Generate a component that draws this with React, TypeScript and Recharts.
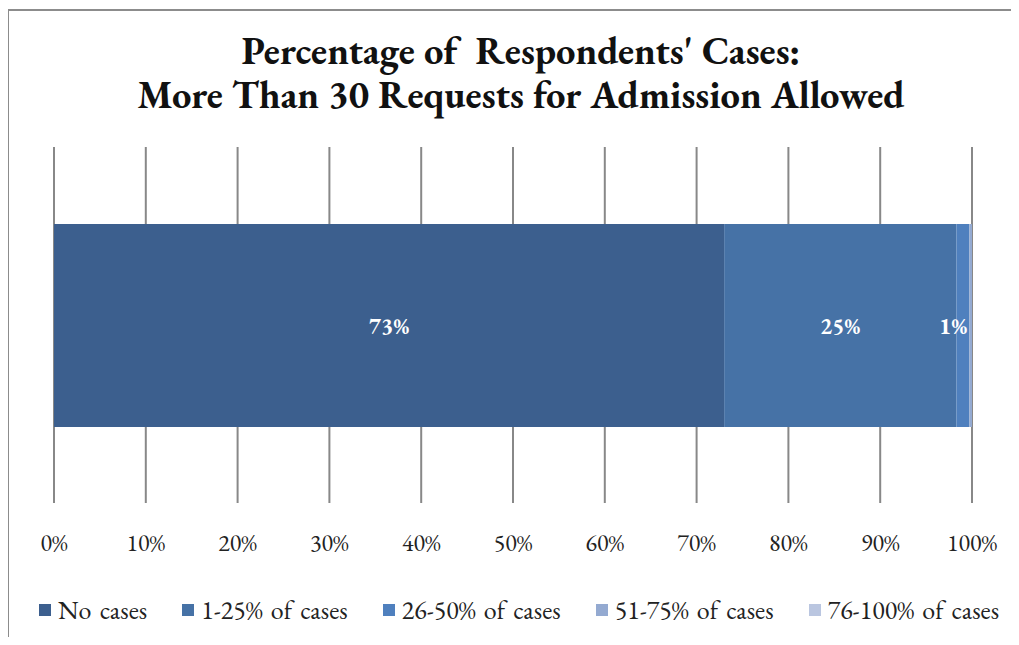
import { Bar, BarChart, CartesianGrid, LabelList, XAxis, YAxis } from "recharts"

const categories = ["Respondents"]
const seriesKeys = ["none", "low", "mid", "high", "top"]
const seriesNames = [
  "No cases",
  "1-25% of cases",
  "26-50% of cases",
  "51-75% of cases",
  "76-100% of cases",
]
const seriesValues = [73.0, 25.3, 1.4, 0.3, 0]
const seriesColors = ["#3c5f8e", "#4672a6", "#4f80be", "#94aad1", "#bac6e0"]
const xTicks = [0, 10, 20, 30, 40, 50, 60, 70, 80, 90, 100]

const titleLines = ["Percentage of  Respondents' Cases:", "More Than 30 Requests for Admission Allowed"]

const chartData = categories.map((name) => {
  const row: Record<string, string | number> = { name }
  seriesKeys.forEach((key, i) => {
    row[key] = seriesValues[i]
  })
  return row
})

const serif = "'EB Garamond', 'Liberation Serif', serif"

function PercentTick(props: any) {
  const { x, y, payload } = props
  return (
    <text x={x} y={y + 40} textAnchor="middle" fill="#222" fontSize={24} style={{ fontFamily: serif }}>
      {`${payload.value}%`}
    </text>
  )
}

function SegmentLabel(props: any) {
  const { x, y, width, height, value } = props
  if (value == null || value < 0.5) return null
  const right = x + width
  const cx = Math.min(x + width / 2, right - 16)
  return (
    <text
      x={cx}
      y={y + height / 2 + 8}
      textAnchor="middle"
      fill="#ffffff"
      fontSize={23}
      fontWeight="bold"
      style={{ fontFamily: serif }}
    >
      {`${Math.round(value)}%`}
    </text>
  )
}

export default function App() {
  return (
    <div
      style={{
        position: "relative",
        width: 1019,
        height: 645,
        overflow: "hidden",
        margin: -8,
        background: "#fff",
        fontFamily: serif,
      }}
    >
      <div
        style={{
          position: "absolute",
          left: 7,
          top: 9,
          width: 1100,
          height: 700,
          border: "2px solid #8c8c8c",
        }}
      />
      {titleLines.map((line, i) => (
        <div
          key={line}
          style={{
            position: "absolute",
            left: 0,
            top: 30 + i * 44,
            width: 1042,
            textAlign: "center",
            fontWeight: "bold",
            fontSize: 38.6,
            lineHeight: "40px",
            color: "#111",
            whiteSpace: "pre",
          }}
        >
          {line}
        </div>
      ))}

      <div style={{ position: "absolute", left: 0, top: 0 }}>
        <BarChart
          width={1019}
          height={645}
          data={chartData}
          layout="vertical"
          margin={{ top: 147, right: 47, bottom: 102, left: 54 }}
          barSize={203}
        >
          <CartesianGrid horizontal={false} stroke="#888888" strokeWidth={2} />
          <XAxis
            type="number"
            domain={[0, 100]}
            ticks={xTicks}
            tick={<PercentTick />}
            axisLine={false}
            tickLine={false}
            height={40}
            interval={0}
          />
          <YAxis type="category" dataKey="name" hide />
          {seriesKeys.map((key, i) => (
            <Bar
              key={key}
              dataKey={key}
              name={seriesNames[i]}
              stackId="total"
              fill={seriesColors[i]}
              isAnimationActive={false}
            >
              <LabelList dataKey={key} content={<SegmentLabel />} />
            </Bar>
          ))}
        </BarChart>
      </div>

      <div
        style={{
          position: "absolute",
          left: 39,
          top: 593,
          display: "flex",
          alignItems: "center",
          gap: 35,
          fontSize: 26,
          wordSpacing: 3,
          color: "#222",
          whiteSpace: "nowrap",
        }}
      >
        {seriesNames.map((name, i) => (
          <div key={name} style={{ display: "flex", alignItems: "center" }}>
            <span
              style={{
                display: "inline-block",
                width: 12,
                height: 12,
                background: seriesColors[i],
                marginRight: 7,
              }}
            />
            <span>{name}</span>
          </div>
        ))}
      </div>
    </div>
  )
}
